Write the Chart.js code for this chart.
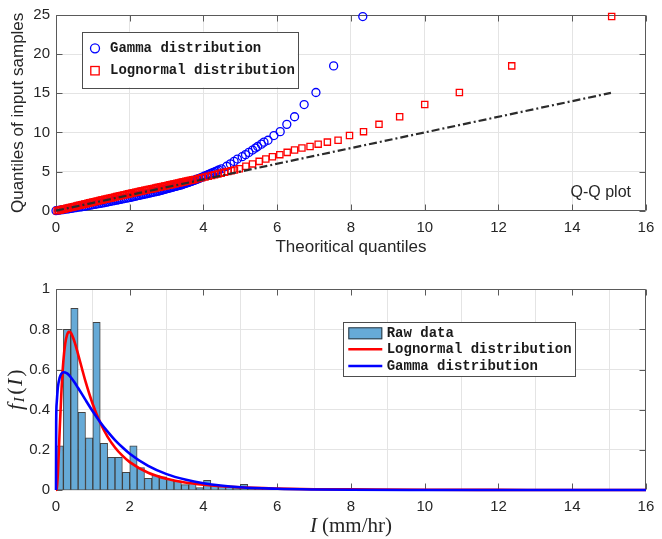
<!DOCTYPE html>
<html>
<head>
<meta charset="utf-8">
<script src="https://cdn.jsdelivr.net/npm/chart.js@4.4.1/dist/chart.umd.min.js"></script>
<style>
  html, body { margin: 0; padding: 0; background: #fff; }
  #wrap { position: relative; width: 662px; height: 539px; }
  canvas { position: absolute; left: 0; }
  #qq { top: 0; }
  #pdf { top: 270px; }
</style>
</head>
<body>
<div id="wrap">
  <canvas id="qq" width="662" height="270"></canvas>
  <canvas id="pdf" width="662" height="269"></canvas>
</div>
<script>
// Q-Q plot + histogram with fitted pdfs

// ---- Q-Q plot: sorted sample quantiles and matching theoretical quantiles ----
const qqSample = [
  0, 0.05, 0.1, 0.15, 0.2, 0.25, 0.3, 0.35, 0.4, 0.45,
  0.5, 0.55, 0.6, 0.65, 0.7, 0.75, 0.8, 0.85, 0.9, 0.95,
  1.0, 1.05, 1.1, 1.15, 1.2, 1.25, 1.3, 1.35, 1.4, 1.45,
  1.5, 1.55, 1.6, 1.65, 1.7, 1.75, 1.8, 1.85, 1.9, 1.95,
  2.0, 2.05, 2.1, 2.15, 2.2, 2.25, 2.3, 2.35, 2.4, 2.45,
  2.5, 2.55, 2.6, 2.65, 2.7, 2.75, 2.8, 2.85, 2.9, 2.95,
  3.0, 3.05, 3.1, 3.15, 3.2, 3.25, 3.3, 3.35, 3.4, 3.45,
  3.5, 3.55, 3.6, 3.65, 3.7, 3.75, 3.8, 3.85, 3.9, 3.95,
  4.0,
  4.1, 4.2, 4.3, 4.4, 4.5, 4.6, 4.7, 4.8, 4.9, 5.0, 5.1, 5.2,
  5.35, 5.68, 5.98, 6.3, 6.6, 6.9, 7.16, 7.45, 7.75, 8.0,
  8.2, 8.5, 8.76, 9.0, 9.6, 10.1, 11.03, 12.0, 13.56, 15.1,
  18.5, 24.8
];
const qqGamma = [
  0, 0.07, 0.14, 0.21, 0.28, 0.35, 0.42, 0.49, 0.56, 0.63,
  0.70, 0.758, 0.815, 0.873, 0.93, 0.988, 1.045, 1.103, 1.16, 1.218,
  1.275, 1.328, 1.38, 1.433, 1.485, 1.538, 1.59, 1.643, 1.695, 1.748,
  1.80, 1.853, 1.905, 1.958, 2.01, 2.058, 2.105, 2.153, 2.20, 2.248,
  2.295, 2.343, 2.39, 2.438, 2.485, 2.533, 2.58, 2.628, 2.675, 2.723,
  2.77, 2.81, 2.85, 2.888, 2.925, 2.963, 3.0, 3.04, 3.08, 3.12,
  3.16, 3.20, 3.24, 3.278, 3.315, 3.355, 3.395, 3.425, 3.455, 3.485,
  3.515, 3.545, 3.575, 3.605, 3.635, 3.665, 3.695, 3.725, 3.755, 3.785,
  3.815,
  3.865, 3.92, 3.97, 4.02, 4.075, 4.125, 4.175, 4.22, 4.27, 4.32, 4.365, 4.415,
  4.49, 4.63, 4.73, 4.83, 4.92, 5.05, 5.14, 5.23, 5.33, 5.41,
  5.47, 5.57, 5.64, 5.75, 5.91, 6.08, 6.26, 6.47, 6.73, 7.05,
  7.53, 8.32
];
const qqLognormal = [
  0.03, 0.074, 0.118, 0.162, 0.206, 0.25, 0.294, 0.338, 0.382, 0.426,
  0.47, 0.514, 0.558, 0.602, 0.646, 0.69, 0.734, 0.778, 0.822, 0.866,
  0.91, 0.956, 1.002, 1.048, 1.094, 1.14, 1.186, 1.232, 1.278, 1.324,
  1.37, 1.416, 1.462, 1.508, 1.554, 1.60, 1.646, 1.692, 1.738, 1.784,
  1.83, 1.876, 1.922, 1.968, 2.014, 2.063, 2.112, 2.161, 2.21, 2.259,
  2.308, 2.357, 2.406, 2.455, 2.504, 2.553, 2.602, 2.651, 2.70, 2.749,
  2.798, 2.847, 2.896, 2.945, 2.994, 3.042, 3.09, 3.138, 3.186, 3.234,
  3.282, 3.33, 3.378, 3.426, 3.474, 3.522, 3.57, 3.618, 3.666, 3.714,
  3.762,
  3.86, 3.95, 4.04, 4.13, 4.22, 4.30, 4.39, 4.48, 4.57, 4.66, 4.75, 4.84,
  4.97, 5.15, 5.33, 5.51, 5.69, 5.87, 6.07, 6.27, 6.47, 6.67,
  6.89, 7.11, 7.36, 7.65, 7.96, 8.34, 8.76, 9.32, 10.0, 10.94,
  12.36, 15.07
];
const refLine = [0, 15.05]; // y = x reference line ends

// ---- histogram (bin width 0.2) ----
const binCenters = [
  0.1, 0.3, 0.5, 0.7, 0.9, 1.1, 1.3, 1.5, 1.7, 1.9,
  2.1, 2.3, 2.5, 2.7, 2.9, 3.1, 3.3, 3.5, 3.7, 3.9,
  4.1, 4.3, 4.5, 4.7, 4.9, 5.1, 5.3, 5.5, 5.7, 5.9
];
const binDensity = [
  0.22, 0.80, 0.905, 0.387, 0.26, 0.835, 0.233, 0.163, 0.163, 0.088,
  0.22, 0.112, 0.058, 0.073, 0.066, 0.053, 0.046, 0.027, 0.036, 0.012,
  0.048, 0.025, 0.02, 0.018, 0.012, 0.028, 0.009, 0.009, 0.009, 0.009
];

// ---- fitted pdf curves ----
const pdfX = [
  0, 0.005, 0.02, 0.05, 0.1, 0.15, 0.2, 0.25, 0.3, 0.35,
  0.4, 0.5, 0.6, 0.7, 0.8, 1.0, 1.2, 1.4, 1.6, 1.8,
  2.0, 2.5, 3.0, 3.5, 4.0, 5.0, 6.0, 7.0, 8.0, 10,
  12, 14, 16
];
const lognormalPdf = [
  0, 0, 0.006, 0.079, 0.299, 0.501, 0.643, 0.729, 0.773, 0.788,
  0.784, 0.740, 0.676, 0.608, 0.541, 0.426, 0.335, 0.265, 0.212, 0.171,
  0.139, 0.086, 0.056, 0.037, 0.026, 0.013, 0.007, 0.004, 0.003, 0.001,
  0.0005, 0.0002, 0.0001
];
const gammaPdf = [
  0, 0.335, 0.436, 0.51, 0.56, 0.58, 0.587, 0.586, 0.581, 0.573,
  0.562, 0.537, 0.508, 0.479, 0.449, 0.391, 0.338, 0.291, 0.249, 0.213,
  0.181, 0.120, 0.079, 0.052, 0.034, 0.014, 0.006, 0.0025, 0.001, 0.0002,
  0, 0, 0
];

const TEXT = "#262626";
const GRID = "#e4e4e4";
const AXIS = "#5a5a5a";
const BLUE = "#0000ff";
const RED = "#ff0000";
const TICK_LEN = 6;
const LEGEND_FONT = "bold 14px 'Liberation Mono', 'Courier New', monospace";
const SERIF = "'Liberation Serif', 'Times New Roman', serif";

Chart.defaults.font.family = "'Liberation Sans', Arial, sans-serif";
Chart.defaults.color = TEXT;

/**
 * Axes box with inward tick marks on all four sides.
 */
const axesBox = {
  id: "axesBox",
  beforeDatasetsDraw(chart) {
    const { ctx, chartArea: a, scales } = chart;
    const l = Math.round(a.left) + 0.5, r = Math.round(a.right) - 0.5;
    const t = Math.round(a.top) + 0.5, b = Math.round(a.bottom) - 0.5;
    ctx.save();
    ctx.strokeStyle = AXIS;
    ctx.lineWidth = 1;
    ctx.beginPath();
    scales.x.ticks.forEach(tk => {
      const px = Math.round(scales.x.getPixelForValue(tk.value)) + 0.5;
      ctx.moveTo(px, b); ctx.lineTo(px, b - TICK_LEN);
      ctx.moveTo(px, t); ctx.lineTo(px, t + TICK_LEN);
    });
    scales.y.ticks.forEach(tk => {
      const py = Math.round(scales.y.getPixelForValue(tk.value)) + 0.5;
      ctx.moveTo(l, py); ctx.lineTo(l + TICK_LEN, py);
      ctx.moveTo(r, py); ctx.lineTo(r - TICK_LEN, py);
    });
    ctx.rect(l, t, r - l, b - t);
    ctx.stroke();
    ctx.restore();
  }
};

function drawSymbol(ctx, kind, ds, x, y) {
  ctx.save();
  if (kind === "circle") {
    ctx.strokeStyle = ds.borderColor;
    ctx.lineWidth = 1.3;
    ctx.beginPath();
    ctx.arc(x, y, 4.5, 0, Math.PI * 2);
    ctx.stroke();
  } else if (kind === "square") {
    ctx.strokeStyle = ds.borderColor;
    ctx.lineWidth = 1.3;
    ctx.strokeRect(x - 4.2, y - 4.2, 8.4, 8.4);
  } else if (kind === "patch") {
    ctx.fillStyle = ds.backgroundColor;
    ctx.fillRect(x, y - 6, 34, 12);
    ctx.strokeStyle = ds.borderColor;
    ctx.lineWidth = 1;
    ctx.strokeRect(x + 0.5, y - 5.5, 33, 11);
  } else {
    ctx.strokeStyle = ds.borderColor;
    ctx.lineWidth = 2.5;
    ctx.beginPath();
    ctx.moveTo(x, y); ctx.lineTo(x + 34, y);
    ctx.stroke();
  }
  ctx.restore();
}

/**
 * MATLAB-like boxed legend drawn inside the plot.
 */
const boxLegend = {
  id: "boxLegend",
  afterDraw(chart, args, opts) {
    const { ctx } = chart;
    const [x0, y0, x1, y1] = opts.box;
    ctx.save();
    ctx.fillStyle = "#fff";
    ctx.fillRect(x0, y0, x1 - x0, y1 - y0);
    ctx.strokeStyle = "#4d4d4d";
    ctx.lineWidth = 1;
    ctx.strokeRect(Math.round(x0) + 0.5, Math.round(y0) + 0.5, Math.round(x1 - x0), Math.round(y1 - y0));
    ctx.font = LEGEND_FONT;
    ctx.textBaseline = "middle";
    opts.items.forEach((idx, row) => {
      const ds = chart.data.datasets[idx];
      const y = opts.rows[row];
      drawSymbol(ctx, opts.kinds[row], ds, opts.symbolX, y);
      ctx.fillStyle = "#1a1a1a";
      ctx.fillText(ds.label, opts.textX, y);
    });
    ctx.restore();
  }
};

// draw a list of text runs centred on (cx, cy)
function drawRuns(ctx, runs, cx, cy) {
  let w = 0;
  runs.forEach(r => { ctx.font = r.font; w += ctx.measureText(r.text).width + (r.gap || 0); });
  let x = cx - w / 2;
  runs.forEach(r => {
    ctx.font = r.font;
    ctx.fillText(r.text, x, cy + (r.dy || 0));
    x += ctx.measureText(r.text).width + (r.gap || 0);
  });
}

/**
 * Extra text: Q-Q note on the top plot, math-style axis titles on the lower one.
 */
const extraText = {
  id: "extraText",
  afterDraw(chart, args, opts) {
    const { ctx, chartArea: a } = chart;
    ctx.save();
    ctx.fillStyle = TEXT;
    ctx.textBaseline = "middle";
    if (opts.note) {
      ctx.font = "16px 'Liberation Sans', Arial, sans-serif";
      ctx.textAlign = "right";
      ctx.fillText(opts.note, opts.noteX, opts.noteY);
    }
    if (opts.math) {
      ctx.textAlign = "left";
      const cx = (a.left + a.right) / 2;
      drawRuns(ctx, [
        { text: "I", font: "italic 21px " + SERIF, gap: 5 },
        { text: "(mm/hr)", font: "21px " + SERIF }
      ], cx, opts.xTitleY);
      ctx.translate(opts.yTitleX, (a.top + a.bottom) / 2);
      ctx.rotate(-Math.PI / 2);
      drawRuns(ctx, [
        { text: "f", font: "italic 22px " + SERIF, gap: 1.5 },
        { text: "I", font: "italic 15px " + SERIF, dy: 4, gap: 2.5 },
        { text: "(", font: "22px " + SERIF, gap: 1.5 },
        { text: "I", font: "italic 22px " + SERIF, gap: 2 },
        { text: ")", font: "22px " + SERIF }
      ], 0, 0);
    }
    ctx.restore();
  }
};

function axisCommon(min, max, step, pad) {
  return {
    type: "linear",
    min: min,
    max: max,
    ticks: {
      stepSize: step,
      padding: pad,
      color: TEXT,
      font: { size: 15 },
      callback: v => String(Number(v.toFixed(2)))
    },
    grid: { color: GRID, drawTicks: false },
    border: { display: false }
  };
}

// ---- top: Q-Q plot ----
new Chart(document.getElementById("qq"), {
  type: "scatter",
  data: {
    datasets: [
      {
        type: "line",
        label: "reference",
        data: refLine.map(v => ({ x: v, y: v })),
        borderColor: "#2b2b2b",
        borderWidth: 2.2,
        borderDash: [8, 3, 2, 3],
        pointRadius: 0,
        clip: false,
        order: 1
      },
      {
        label: "Lognormal distribution",
        data: qqSample.map((y, i) => ({ x: qqLognormal[i], y: y })),
        pointStyle: "rect",
        pointRadius: 4.4,
        borderColor: RED,
        backgroundColor: "rgba(0,0,0,0)",
        pointBorderWidth: 1.3,
        clip: false,
        order: 2
      },
      {
        label: "Gamma distribution",
        data: qqSample.map((y, i) => ({ x: qqGamma[i], y: y })),
        pointStyle: "circle",
        pointRadius: 4,
        borderColor: BLUE,
        backgroundColor: "rgba(0,0,0,0)",
        pointBorderWidth: 1.3,
        clip: false,
        order: 3
      }
    ]
  },
  options: {
    responsive: false,
    animation: false,
    layout: { padding: { left: 0, right: 9, top: 12.7, bottom: 9.3 } },
    plugins: {
      legend: { display: false },
      tooltip: { enabled: false },
      boxLegend: {
        box: [81.7, 31.7, 297.7, 87.3],
        items: [2, 1],
        kinds: ["circle", "square"],
        rows: [48.3, 70.7],
        symbolX: 95,
        textX: 110
      },
      extraText: { note: "Q-Q plot", noteX: 631, noteY: 192.7 }
    },
    scales: {
      x: Object.assign(axisCommon(0, 16, 2, 7.7), {
        title: { display: true, text: "Theoritical quantiles", color: TEXT, font: { size: 17 }, padding: { top: 0, bottom: 3.1 } },
        afterFit: s => { s.height = 50; }
      }),
      y: Object.assign(axisCommon(0, 25, 5, 6), {
        title: { display: true, text: "Quantiles of input samples", color: TEXT, font: { size: 17 }, padding: { top: 8.1, bottom: 0 } },
        afterFit: s => { s.width = 56; }
      })
    }
  },
  plugins: [axesBox, boxLegend, extraText]
});

// ---- bottom: histogram + fitted pdfs ----
new Chart(document.getElementById("pdf"), {
  type: "bar",
  data: {
    datasets: [
      {
        type: "line",
        label: "Gamma distribution",
        data: pdfX.map((x, i) => ({ x: x, y: gammaPdf[i] })),
        borderColor: BLUE,
        borderWidth: 2.6,
        pointRadius: 0,
        cubicInterpolationMode: "monotone",
        clip: false,
        order: 1
      },
      {
        type: "line",
        label: "Lognormal distribution",
        data: pdfX.map((x, i) => ({ x: x, y: lognormalPdf[i] })),
        borderColor: RED,
        borderWidth: 2.6,
        pointRadius: 0,
        cubicInterpolationMode: "monotone",
        clip: false,
        order: 2
      },
      {
        type: "bar",
        label: "Raw data",
        data: binCenters.map((x, i) => ({ x: x, y: binDensity[i] })),
        backgroundColor: "rgb(102,170,215)",
        borderColor: "rgba(35,35,35,0.85)",
        borderWidth: 1,
        barPercentage: 1,
        categoryPercentage: 1,
        order: 3
      }
    ]
  },
  options: {
    responsive: false,
    animation: false,
    layout: { padding: { left: 0, right: 9, top: 19.3, bottom: 0 } },
    plugins: {
      legend: { display: false },
      tooltip: { enabled: false },
      boxLegend: {
        box: [343.3, 52.3, 575, 106.7],
        items: [2, 1, 0],
        kinds: ["patch", "line", "line"],
        rows: [63.3, 79.3, 96],
        symbolX: 348.3,
        textX: 386.7
      },
      extraText: { math: true, xTitleY: 256.7, yTitleX: 16 }
    },
    scales: {
      x: Object.assign(axisCommon(0, 16, 2, 7.7), {
        offset: false,
        afterFit: s => { s.height = 49; }
      }),
      y: Object.assign(axisCommon(0, 1, 0.2, 6), {
        afterFit: s => { s.width = 56; }
      })
    }
  },
  plugins: [axesBox, boxLegend, extraText]
});
</script>
</body>
</html>
